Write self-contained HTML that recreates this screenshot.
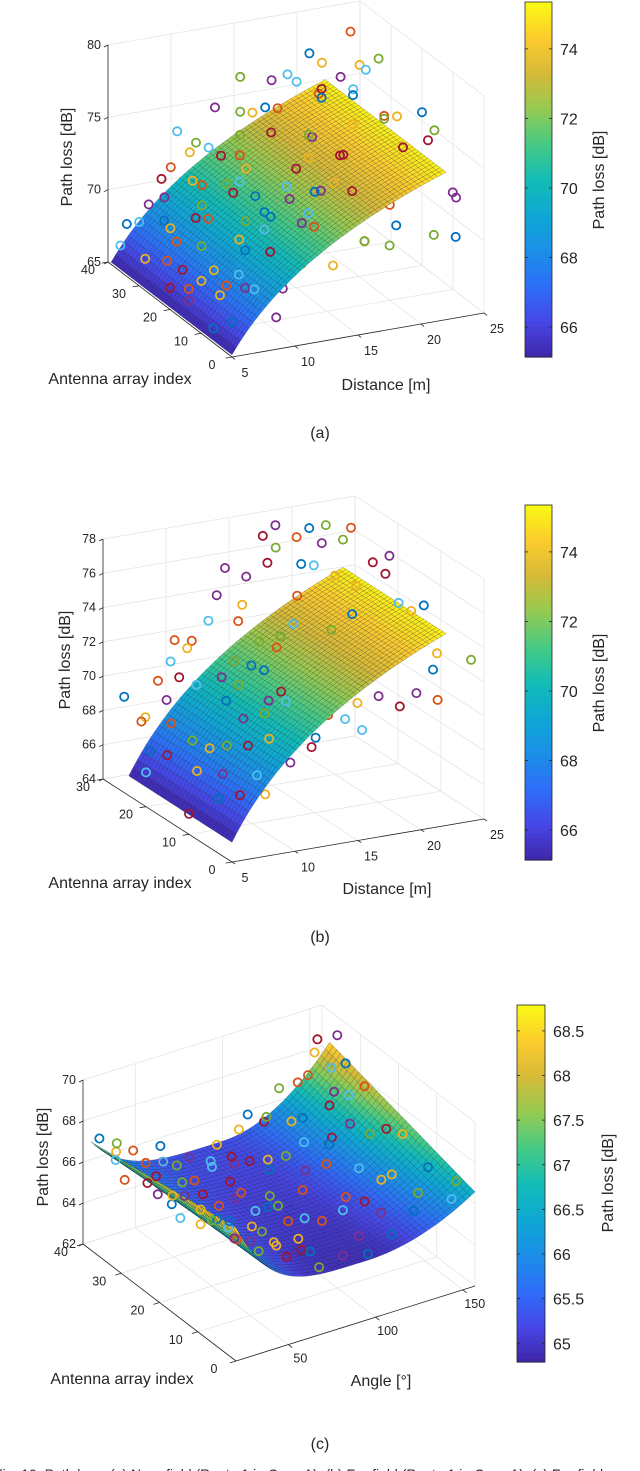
<!DOCTYPE html>
<html><head><meta charset="utf-8">
<style>
html,body{margin:0;padding:0;background:#fff;}
svg{display:block;}
text{font-family:"Liberation Sans",sans-serif;fill:#262626;}
</style></head>
<body>
<svg id="fig" width="640" height="1471" viewBox="0 0 640 1471"></svg>
<script>
// ---------- data ----------
const aDist=[6,6,7,7,8,8,9,9,10,10,11,11,12,12,13,13,14,14,15,15,16,16,17,17,18,18,19,19,20,20,21,21,22,22,23,23,24,24,25,25,5,5,5,6,7,9,11,14,17,20,6,7,8,9,10,11,12,13,14,15,16,18,19,21,22,23,24,25,
 6,6,7,7,7,8,8,8,9,9,10,10,10,11,11,12,12,12,13,13,14,14,15,15,16,16,17,17,18,18,19,19,20,21,22,23,24,25,9,11,13,15,8,10,6,7,5,5,9,12];
const aIdx=[38,30,12,35,22,5,39,15,28,33,8,20,36,12,25,30,4,18,38,10,24,34,6,16,27,2,39,21,8,33,36,14,4,30,18,1,39,24,9,34,36,20,6,25,14,2,36,19,10,36,18,28,8,26,38,24,16,6,30,12,2,12,28,26,20,32,6,16,
 34,20,30,10,18,34,22,6,28,12,30,18,4,26,14,32,18,6,28,10,34,12,28,14,30,20,36,24,32,18,28,6,22,30,20,30,14,20,36,38,38,38,10,8,4,26,28,14,18,26];
const aVal=[67.8,65.0,67.0,69.5,66.0,68.4,70.3,67.0,69.2,71.0,67.5,70.2,72.5,68.4,70.8,72.8,69.3,71.6,74.2,69.8,72.4,75.0,70.2,72.6,73.8,70.4,76.0,73.4,70.5,75.5,77.0,72.0,70.2,76.0,73.8,70.4,78.2,74.8,71.5,77.0,66.8,66.5,66.0,67.4,68.4,66.8,73.0,72.3,73.0,77.8,66.6,69.0,68.0,70.6,73.6,71.5,71.0,71.8,75.6,73.0,71.0,72.4,76.8,76.4,75.8,77.2,72.5,75.0,
 68.6,67.6,69.2,68.0,67.0,70.0,68.6,67.4,69.4,69.8,71.2,69.4,68.8,71.8,70.6,72.6,71.0,69.4,72.2,71.4,73.4,71.6,74.4,72.6,75.6,73.8,76.4,74.6,76.8,74.0,76.2,72.4,75.2,77.0,75.6,77.2,74.8,75.6,71.6,72.0,74.8,76.6,68.6,70.2,66.6,68.4,67.2,66.6,68.2,71.8];
const bDist=[6,6,7,7,8,8,9,9,10,10,11,11,12,12,13,13,14,14,15,15,16,16,17,17,18,18,19,19,20,20,21,21,22,22,23,23,24,24,25,25,5,5,6,8,9,12,14,16,18,20,22,24,13,17,19,
 6,6,7,7,8,8,9,9,10,10,11,11,12,12,13,13,14,14,15,15,16,17,18,19,20,21,22,23,24,25,6,8,10,11,9,7,12,14,16,18];
const bIdx=[22,12,26,8,18,3,24,14,28,6,20,10,26,2,16,22,8,28,18,3,24,12,20,6,28,15,22,2,26,10,18,4,24,12,20,6,28,14,22,3,20,10,28,26,4,12,20,2,8,16,2,8,27,25,14,
 18,6,20,14,24,10,20,8,16,24,28,4,20,8,12,4,16,24,26,10,18,28,22,26,20,26,28,14,20,14,24,14,12,16,26,4,16,4,8,4];
const bVal=[66.8,65.4,68.0,67.6,67.8,68.2,70.4,68.2,71.8,69.6,70.8,70.3,73.0,69.5,71.6,73.5,70.0,75.5,73.0,70.6,76.2,72.0,74.8,70.8,77.5,73.5,76.0,71.0,77.4,72.6,75.2,71.2,76.8,73.2,76.0,72.0,76.6,74.0,75.8,72.8,66.0,65.2,69.0,70.0,66.8,70.6,72.5,70.0,71.6,74.0,71.0,72.5,74.2,76.8,73.0,
 67.2,66.6,68.6,66.8,69.2,68.8,70.6,69.0,70.2,72.4,71.2,68.4,71.6,71.2,71.0,69.6,72.8,74.0,75.2,71.6,73.6,77.0,76.2,77.0,75.6,76.4,77.0,74.6,75.2,74.2,68.2,68.0,69.8,71.0,71.0,67.0,72.0,70.8,71.4,71.4];
const cAng=[25,22,28,30,35,32,40,42,45,48,50,55,55,60,60,65,68,70,72,75,78,80,85,88,90,92,95,98,100,102,105,108,110,112,115,118,120,122,125,128,130,132,135,138,140,142,145,148,150,152,155,155,157,157,147,135,126,38,26,30,65,80,95,110,118,62,52,44,
 30,35,38,40,45,48,50,55,58,60,62,65,68,70,72,75,78,80,82,85,88,90,92,96,100,104,108,112,116,120,124,130,134,138,142,146,150,153,156,144];
const cIdx=[38,30,35,25,38,20,30,15,35,22,10,30,18,5,38,25,12,35,2,20,28,8,16,36,4,24,12,32,2,20,38,8,28,14,36,4,22,32,10,38,18,26,6,35,14,30,22,2,38,10,28,18,36,5,33,28,24,8,12,5,36,34,20,38,16,15,28,5,
 36,30,25,36,28,32,20,35,26,20,30,10,22,16,30,8,18,26,12,30,20,14,34,26,14,30,22,34,26,12,30,34,14,24,8,28,20,32,12,36];
const cVal=[67.3,66.5,67.0,66.3,66.8,65.8,66.2,66.2,66.0,65.5,65.6,65.5,65.0,65.3,66.0,64.8,64.8,65.6,64.9,65.0,65.2,64.6,64.8,65.6,64.7,64.7,64.5,65.1,64.8,65.3,65.6,64.6,65.6,64.9,66.0,65.0,65.8,66.4,65.0,67.0,65.9,66.2,65.4,67.8,65.9,67.6,66.6,66.2,68.8,66.5,67.8,66.9,69.1,66.4,68.2,67.4,66.3,66.3,66.8,67.0,65.2,65.3,64.5,66.2,65.1,65.3,65.2,66.0,
 66.4,66.0,65.6,66.6,65.4,66.4,65.2,65.8,65.4,64.9,65.4,65.0,65.5,64.7,65.8,64.8,65.4,64.9,64.6,65.6,64.9,65.1,65.2,65.6,64.7,65.3,65.8,66.6,66.4,65.4,66.8,67.8,65.8,67.0,65.8,67.6,67.0,68.4,66.4,68.6];
const abTicksX=[5,10,15,20,25];
const aTicksY=[0,10,20,30,40];
const aTicksZ=[65,70,75,80];
const bTicksY=[0,10,20,30];
const bTicksZ=[64,66,68,70,72,74,76,78];
const cTicksX=[50,100,150];
const cTicksY=[0,10,20,30,40];
const cTicksZ=[62,64,66,68,70];
const abCbarTicks=[66,68,70,72,74];
const cCbarTicks=[65,65.5,66,66.5,67,67.5,68,68.5];
// surface model coefficients
const logModel=[65.15,15.6];      // PL = a + b*log10(d/5)
const angModel=[64.9,95,0.01,1.14e-7,6.3e-8,0.00044,0.00083]; // min, centre, min idx slope, left quartic idx0/idx38, right quad idx0/idx38

const NS='http://www.w3.org/2000/svg';
const svg=document.getElementById('fig');
const COLORS=['#0072BD','#D95319','#EDB120','#7E2F8E','#77AC30','#4DBEEE','#A2142F'];
const PAR=[[62,38,168],[70,70,230],[45,110,248],[28,142,232],[14,168,212],[18,188,182],[70,202,132],[148,202,82],[214,186,56],[252,203,45],[249,250,20]];
function parula(t){t=Math.max(0,Math.min(1,t))*(PAR.length-1);const i=Math.min(PAR.length-2,Math.floor(t)),f=t-i;
 const c=PAR[i].map((v,k)=>Math.round(v+(PAR[i+1][k]-v)*f));return 'rgb('+c.join(',')+')';}
function el(tag,attrs,parent){const e=document.createElementNS(NS,tag);for(const k in attrs)e.setAttribute(k,attrs[k]);(parent||svg).appendChild(e);return e;}
function txt(s,x,y,size,anchor,parent,rot){const t=el('text',{x:x,y:y,'font-size':size,'text-anchor':anchor||'middle'},parent);
 if(rot)t.setAttribute('transform','rotate(-90 '+x+' '+y+')');t.textContent=s;return t;}

function panel(c){
 const g=el('g',{});
 
 
 const P=(x,y,z)=>{const xn=(x-c.xr[0])/(c.xr[1]-c.xr[0]),yn=(y-c.yr[0])/(c.yr[1]-c.yr[0]),zn=(z-c.zr[0])/(c.zr[1]-c.zr[0]);
  return [c.O[0]+xn*c.ex[0]+yn*c.ey[0]+zn*c.ez[0],c.O[1]+xn*c.ex[1]+yn*c.ey[1]+zn*c.ez[1]];};
 const line=(a,b,col,w,parent)=>el('line',{x1:a[0].toFixed(1),y1:a[1].toFixed(1),x2:b[0].toFixed(1),y2:b[1].toFixed(1),stroke:col,'stroke-width':w},parent);
 const [x0,x1]=c.xr,[y0,y1]=c.yr,[z0,z1]=c.zr;
 const grid=el('g',{},g);
 
 
 const gc='#e2e2e2';
 c.tx.forEach(t=>{line(P(t,y0,z0),P(t,y1,z0),gc,0.7,grid);line(P(t,y1,z0),P(t,y1,z1),gc,0.7,grid);});
 c.ty.forEach(t=>{line(P(x0,t,z0),P(x1,t,z0),gc,0.7,grid);line(P(x1,t,z0),P(x1,t,z1),gc,0.7,grid);});
 c.tz.forEach(t=>{line(P(x0,y1,t),P(x1,y1,t),gc,0.7,grid);line(P(x1,y0,t),P(x1,y1,t),gc,0.7,grid);});
 const ax=el('g',{},g);
 
 
 line(P(x0,y0,z0),P(x1,y0,z0),'#262626',0.8,ax);
 line(P(x0,y0,z0),P(x0,y1,z0),'#262626',0.8,ax);
 line(P(x0,y1,z0),P(x0,y1,z1),'#262626',0.8,ax);
 c.tx.forEach(t=>{const p=P(t,y0,z0),q=P(t,y0-(y1-y0)*0.025,z0);line(p,q,'#262626',0.8,ax);
   const l=txt(String(t),p[0]+c.xo[0],p[1]+c.xo[1],12.5,'middle',ax);});
 c.ty.forEach(t=>{const p=P(x0,t,z0),q=P(x0-(x1-x0)*0.025,t,z0);line(p,q,'#262626',0.8,ax);
   const l=txt(String(t),p[0]+c.yo[0],p[1]+c.yo[1],12.5,'middle',ax);});
 c.tz.forEach(t=>{const p=P(x0,y1,t);line(p,[p[0]-4,p[1]+2],'#262626',0.8,ax);
   const l=txt(String(t),p[0]-7,p[1]+4,12.5,'end',ax);});
 const pts=c.px.map((x,i)=>({x:x,y:c.py[i],v:c.pv[i],i:i}));
 const below=el('g',{},g);
 
 
 const surf=el('g',{},g);
 
 
 const above=el('g',{},g);
 
 
 pts.forEach(p=>{const s=c.f(Math.min(Math.max(p.x,c.sx[0]),c.sx[1]),Math.min(Math.max(p.y,c.sy[0]),c.sy[1]));
   const inside=p.x>=c.sx[0]&&p.x<=c.sx[1]&&p.y>=c.sy[0]&&p.y<=c.sy[1];
   const par=(inside&&p.v<s-c.thr)?below:above;const q=P(p.x,p.y,p.v);
   const ci=el('circle',{cx:q[0].toFixed(1),cy:q[1].toFixed(1),r:4.1,fill:'none',stroke:COLORS[p.i%7],'stroke-width':1.8},par);
   
   });
 const nx=c.nx,ny=c.ny,quads=[];
 for(let i=0;i<nx;i++)for(let j=0;j<ny;j++){
  const xa=c.sx[0]+(c.sx[1]-c.sx[0])*i/nx,xb=c.sx[0]+(c.sx[1]-c.sx[0])*(i+1)/nx;
  const ya=c.sy[0]+(c.sy[1]-c.sy[0])*j/ny,yb=c.sy[0]+(c.sy[1]-c.sy[0])*(j+1)/ny;
  const zs=[c.f(xa,ya),c.f(xb,ya),c.f(xb,yb),c.f(xa,yb)];
  const pp=[P(xa,ya,zs[0]),P(xb,ya,zs[1]),P(xb,yb,zs[2]),P(xa,yb,zs[3])];
  const zm=(zs[0]+zs[1]+zs[2]+zs[3])/4;
  const d=(xa+xb)/2/(c.xr[1]-c.xr[0])+(ya+yb)/2/(c.yr[1]-c.yr[0])-0.3*(zm-z0)/(z1-z0);
  quads.push({pp,zm,d});}
 quads.sort((a,b)=>b.d-a.d);
 quads.forEach(q=>{const col=parula((q.zm-c.cr[0])/(c.cr[1]-c.cr[0]));
  const pg=el('polygon',{points:q.pp.map(p=>p[0].toFixed(1)+','+p[1].toFixed(1)).join(' '),fill:col,stroke:'rgba(10,10,30,0.5)','stroke-width':0.35},surf);
  
  });
 const t1=txt('Path loss [dB]',c.zl[0],c.zl[1],16,'middle',g,true);
 
 const t2=txt('Antenna array index',c.yl[0],c.yl[1],16,'middle',g);
 
 const t3=txt(c.xlab,c.xl[0],c.xl[1],16,'middle',g);
 
 const t4=txt(c.cap,320,c.capy,16,'middle',g);
 
 const cb=el('g',{},g);
 
 
 const [bx,by,bw,bh]=c.cb,N=80;
 for(let k=0;k<N;k++){el('rect',{x:bx,y:(by+bh-(k+1)*bh/N).toFixed(2),width:bw,height:(bh/N+0.6).toFixed(2),fill:parula((k+0.5)/N)},cb);}
 el('rect',{x:bx,y:by,width:bw,height:bh,fill:'none',stroke:'#262626','stroke-width':0.8},cb);
 const cy=v=>by+bh-(v-c.cr[0])/(c.cr[1]-c.cr[0])*bh;
 c.ct.forEach(v=>{const y=cy(v);line([bx,y],[bx+3,y],'#262626',0.8,cb);line([bx+bw-3,y],[bx+bw,y],'#262626',0.8,cb);
   const l=txt(String(v),bx+bw+8,y+6,16,'start',cb);});
 const cl=txt('Path loss [dB]',c.cl[0],c.cl[1],16,'middle',cb,true);
 
}

const fLog=(d,i)=>logModel[0]+logModel[1]*Math.log10(d/5);
const fAng=(a,i)=>{const m=angModel;const dA=a-m[1];const t=i/38;
 const base=m[0]+m[2]*i;
 if(dA<0){const k=m[3]+(m[4]-m[3])*t;return base+k*dA*dA*dA*dA;}
 const k=m[5]+(m[6]-m[5])*t;return base+k*dA*dA;};

panel({name:'panel-a',O:[232,357],ex:[252,-44],ey:[-124,-95],ez:[0,-217],xr:[5,25],yr:[0,40],zr:[65,80],
 tx:abTicksX,ty:aTicksY,tz:aTicksZ,xo:[13,20],yo:[-20,12],px:aDist,py:aIdx,pv:aVal,f:fLog,sx:[5,22],sy:[0,39],nx:50,ny:40,thr:0.9,
 cr:[65.14,75.35],zl:[72,157],yl:[120,384],xl:[386,390],xlab:'Distance [m]',cap:'(a)',capy:438,cb:[525,2,27,355],ct:abCbarTicks,cl:[604,180]});
panel({name:'panel-b',O:[232,862],ex:[252,-43],ey:[-129,-83],ez:[0,-240],xr:[5,25],yr:[0,30],zr:[64,78],
 tx:abTicksX,ty:bTicksY,tz:bTicksZ,xo:[13,20],yo:[-20,12],px:bDist,py:bIdx,pv:bVal,f:fLog,sx:[5,22],sy:[0,24],nx:50,ny:32,thr:0.9,
 cr:[65.14,75.35],zl:[70,660],yl:[120,888],xl:[387,894],xlab:'Distance [m]',cap:'(b)',capy:942,cb:[525,505,27,355],ct:abCbarTicks,cl:[604,683]});
panel({name:'panel-c',O:[236,1361],ex:[239,-75],ey:[-153,-117],ez:[0,-164],xr:[20,157],yr:[0,40],zr:[62,70],
 tx:cTicksX,ty:cTicksY,tz:cTicksZ,xo:[12,18],yo:[-22,12],px:cAng,py:cIdx,pv:cVal,f:fAng,sx:[20,157],sy:[0,38],nx:54,ny:40,thr:0.5,
 cr:[64.79,68.79],zl:[48,1157],yl:[122,1384],xl:[381,1386],xlab:'Angle [°]',cap:'(c)',capy:1449,cb:[517,1005,28,357],ct:cCbarTicks,cl:[613,1183]});

const fc=el('text',{x:-6,y:1479,'font-size':14,'text-anchor':'start','font-family':'Liberation Serif, serif'});


fc.textContent='Fig. 10.   Path loss: (a) Near-field (Route 1 in Case A), (b) Far-field (Route 1 in Case A), (c) Far-field';
</script>
</body></html>
